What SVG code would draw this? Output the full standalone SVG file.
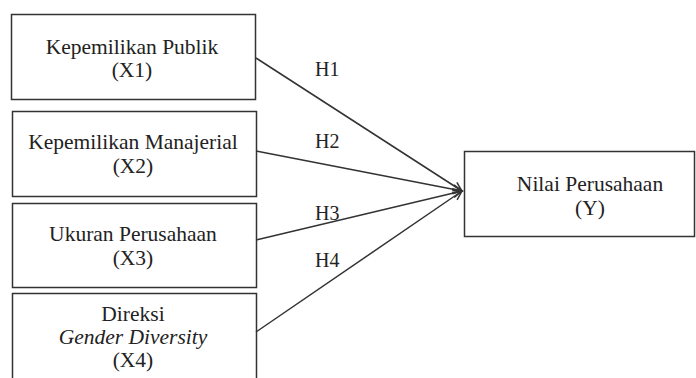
<svg xmlns="http://www.w3.org/2000/svg" width="696" height="378" viewBox="0 0 696 378">
<style>
.box{fill:#fff;stroke:#333;stroke-width:1.5}
.t{font-family:"Liberation Serif","Times New Roman",serif;font-size:21.5px;fill:#222;text-anchor:middle}
.lbl{font-family:"Liberation Serif","Times New Roman",serif;font-size:20px;fill:#222}
.c{stroke:#333;stroke-width:1.5;fill:none;marker-end:url(#ah)}
</style>
<defs>
<marker id="ah" markerWidth="12" markerHeight="12" refX="10" refY="5" orient="auto" markerUnits="userSpaceOnUse" viewBox="0 0 12 10">
<polyline points="1,0.5 10,5 1,9.5" fill="none" stroke="#333" stroke-width="1.5"/>
</marker>
</defs>
<rect width="696" height="378" fill="#fff"/>
<g id="x1"><rect class="box" x="11.5" y="14.5" width="244" height="85"/><text class="t" x="132" y="54">Kepemilikan Publik</text><text class="t" x="132" y="77">(X1)</text></g>
<g id="x2"><rect class="box" x="12.5" y="111.5" width="244" height="85"/><text class="t" x="133" y="149">Kepemilikan Manajerial</text><text class="t" x="133" y="173">(X2)</text></g>
<g id="x3"><rect class="box" x="12.5" y="203.5" width="244" height="84"/><text class="t" x="133" y="241">Ukuran Perusahaan</text><text class="t" x="133" y="265">(X3)</text></g>
<g id="x4"><path class="box" d="M12.5,380 V293.5 H256.5 V380"/><text class="t" x="133" y="321">Direksi</text><text class="t" x="133" y="344" font-style="italic">Gender Diversity</text><text class="t" x="133" y="367">(X4)</text></g>
<g id="y"><rect class="box" x="464.5" y="151.5" width="230" height="85"/><text class="t" x="590" y="191">Nilai Perusahaan</text><text class="t" x="590" y="215">(Y)</text></g>
<g id="connectors">
<line class="c" x1="256" y1="58" x2="462" y2="191"/>
<line class="c" x1="256" y1="151" x2="462" y2="191"/>
<line class="c" x1="256" y1="240" x2="462" y2="191"/>
<line class="c" x1="256" y1="332" x2="462" y2="191"/>
<text class="lbl" x="315" y="76">H1</text>
<text class="lbl" x="315" y="148">H2</text>
<text class="lbl" x="315" y="220">H3</text>
<text class="lbl" x="315" y="267">H4</text>
</g>
</svg>
